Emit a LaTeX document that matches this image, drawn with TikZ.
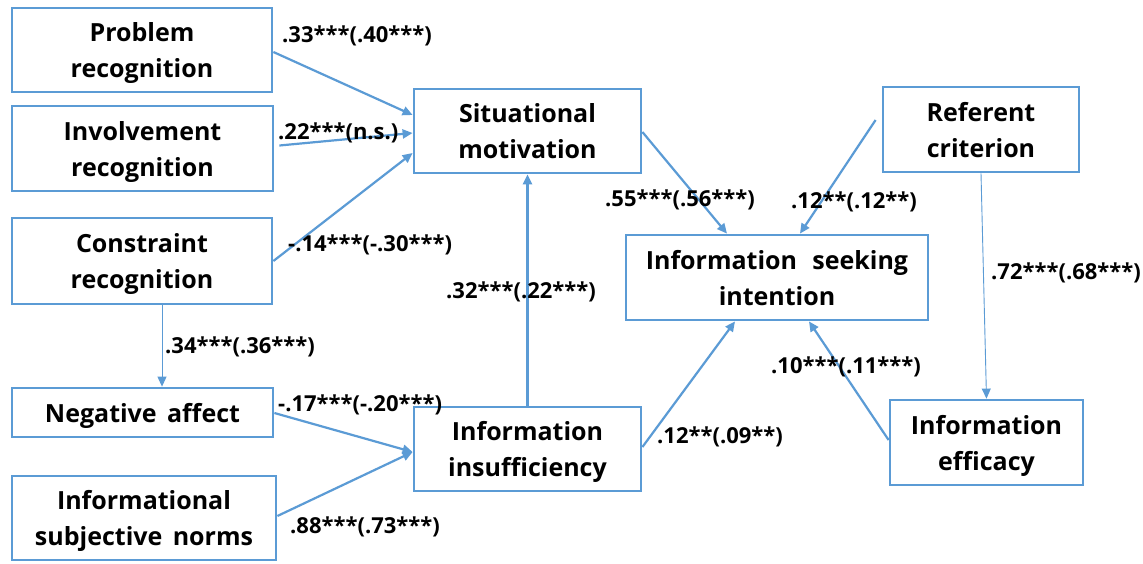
\documentclass[tikz,border=0pt]{standalone}
\usepackage{fontspec}
\setmainfont{Open Sans}[WordSpace=1.6]
\usetikzlibrary{arrows.meta,calc}
\definecolor{lineblue}{RGB}{91,155,213}
\begin{document}
\begin{tikzpicture}[x=1pt,y=-1pt,
  box/.style={draw=lineblue,line width=2.8pt,fill=white,align=center,
    font=\fontsize{25}{36}\selectfont\bfseries,inner sep=0pt,text depth=0pt},
  conn/.style={draw=lineblue,line width=2.2pt,-{Triangle[length=10pt,width=9pt]}},
  thinconn/.style={draw=lineblue,line width=0.9pt,-{Triangle[length=10pt,width=9pt]}},
  lab/.style={anchor=west,inner sep=0pt,font=\fontsize{22}{26}\selectfont\bfseries}]
\useasboundingbox (0,0) rectangle (1143,563);
\fill[white] (0,0) rectangle (1143,563);

% boxes
\node[box,minimum width=260pt,minimum height=84pt] (pr) at (142,50) {Problem\\recognition};
\node[box,minimum width=261pt,minimum height=85pt] (ir) at (142.5,148.5) {Involvement\\recognition};
\node[box,minimum width=260pt,minimum height=86pt] (cr) at (142,261) {Constraint\\recognition};
\node[box,minimum width=261pt,minimum height=49pt] (na) at (142.5,412.5) {Negative affect};
\node[box,minimum width=264pt,minimum height=84pt] (isn) at (144,518) {Informational\\subjective norms};
\node[box,minimum width=227pt,minimum height=84pt] (sm) at (527.5,131) {Situational\\motivation};
\node[box,minimum width=227pt,minimum height=84pt] (ii) at (527.5,449) {Information\\insufficiency};
\node[box,minimum width=302pt,minimum height=85pt] (isi) at (777,277.5) {Information\hspace{0.2em} seeking\\intention};
\node[box,minimum width=196pt,minimum height=85pt] (rc) at (981,129.5) {Referent\\criterion};
\node[box,minimum width=193pt,minimum height=85pt] (ie) at (986.5,442.5) {Information\\efficacy};

% connectors
\draw[conn] ($(pr.east)+(0,2)$) -- ($(sm.west)+(0,-16)$);
\draw[conn] ($(ir.east)+(5,-3)$) -- ($(sm.west)+(0,2)$);
\draw[conn] (cr.east) -- ($(sm.west)+(0,22)$);
\draw[thinconn] ($(cr.south)+(20,0)$) -- ($(na.north)+(19.5,0)$);
\draw[conn] ($(na.east)+(0,0.5)$) -- ($(ii.west)+(0,3)$);
\draw[conn] ($(isn.east)+(0,-2)$) -- ($(ii.west)+(0,3)$);
\draw[conn] (ii.north) -- (sm.south);
\draw[conn] ($(sm.east)+(0,1)$) -- ($(isi.north)+(-50,0)$);
\draw[conn] ($(rc.west)+(-6,-9.5)$) -- ($(isi.north)+(23,0)$);
\draw[thinconn] (rc.south) -- (ie.north);
\draw[conn] ($(ie.west)+(0,-2.5)$) -- ($(isi.south)+(32,0)$);
\draw[conn] ($(ii.east)+(0,-2)$) -- ($(isi.south)+(-42,0)$);

% labels
\node[lab] (l1) at (282,36) {.33***(.40***)};
\node[lab] (l2) at (278,133) {.22***(n.s.)};
\node[lab] (l3) at (288,245) {-.14***(-.30***)};
\node[lab] (l4) at (165,347) {.34***(.36***)};
\node[lab] (l5) at (278,405) {-.17***(-.20***)};
\node[lab] (l6) at (290,527) {.88***(.73***)};
\node[lab] (l7) at (446,292) {.32***(.22***)};
\node[lab] (l8) at (605,200) {.55***(.56***)};
\node[lab] (l9) at (791,202) {.12**(.12**)};
\node[lab] (l10) at (991,273) {.72***(.68***)};
\node[lab] (l11) at (771,367) {.10***(.11***)};
\node[lab] (l12) at (657,437) {.12**(.09**)};
\end{tikzpicture}
\end{document}
